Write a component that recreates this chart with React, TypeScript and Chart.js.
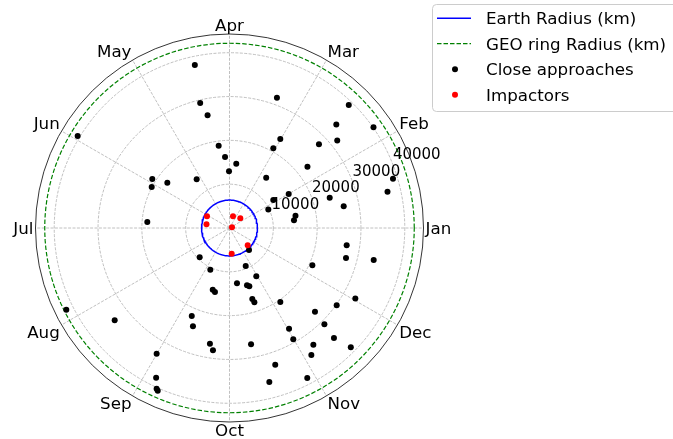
import { useEffect, useRef } from "react";
import { Chart, registerables } from "chart.js";

Chart.register(...registerables);

// Month labels around the dial (Jan at 0°, counter-clockwise)
const MONTHS = ["Jan", "Feb", "Mar", "Apr", "May", "Jun", "Jul", "Aug", "Sep", "Oct", "Nov", "Dec"];
const RADIAL_TICKS = [10000, 20000, 30000, 40000];

const EARTH_RADIUS_KM = 6371;
const GEO_RADIUS_KM = 42164;
const R_MAX = 44272;

// Close approaches: position on the yearly dial (degrees) and distance from Earth's centre (km)
const approachAngleDeg = [
  102.0, 70.0, 103.2, 101.0, 44.1, 60.3, 39.1, 148.8, 43.1, 97.5,
  61.2, 93.6, 84.0, 38.2, 90.5, 147.6, 152.2, 143.9, 124.0, 53.9,
  29.9, 16.8, 32.6, 25.5, 10.6, 6.8, 175.8, 45.9, 35.0, 16.8,
  12.9, 10.8, 224.5, 245.3, 277.7, 287.0, 288.8, 254.8, 257.2, 293.1,
  206.6, 218.8, 246.8, 249.6, 260.4, 262.3, 239.9, 243.9, 245.6, 246.2,
  280.5, 351.6, 345.6, 347.5, 311.6, 335.8, 299.0, 287.8, 288.5, 304.5,
  330.7, 324.2, 315.6, 314.6, 300.6, 299.8, 313.5, 305.7, 315.5, 302.8,
  288.5, 297.4, 284.5,
];
const approachDistanceKm = [
  38040, 31650, 29300, 26200, 33940, 23390, 31680, 40510, 27960, 18940,
  20750, 16230, 14760, 22640, 12940, 20870, 20070, 17560, 13400, 14210,
  15580, 23890, 11860, 9810, 15320, 14820, 18810, 39110, 40110, 38970,
  36990, 26530, 9540, 10480, 12740, 13670, 14050, 14590, 14980, 9430,
  41650, 33620, 21860, 23930, 26780, 28160, 33150, 38060, 40260, 40590,
  26990, 27030, 27450, 33710, 6710, 20730, 12610, 17020, 17880, 20480,
  32930, 30160, 27300, 30840, 26690, 29280, 34630, 32790, 38810, 34480,
  32900, 38560, 36300,
];

// Impactors
const impactorAngleDeg = [73.4, 41.9, 152.5, 170.9, 15.6, 316.5, 274.9];
const impactorDistanceKm = [2790, 3310, 5790, 5320, 590, 5730, 5890];

const FONT = '"DejaVu Sans", "Liberation Sans", sans-serif';
const LABEL_SIZE = 16.7;
const TICK_SIZE = 15;

const rad = (deg: number) => (deg * Math.PI) / 180;
const toXY = (deg: number, r: number) => ({ x: r * Math.cos(rad(deg)), y: r * Math.sin(rad(deg)) });

// closed outline of a constant-radius ring
const ring = (r: number) => {
  const pts: { x: number; y: number }[] = [];
  for (let a = 0; a <= 360; a += 2) pts.push(toXY(a, r));
  return pts;
};

const polarFrame = {
  id: "polarFrame",
  beforeDatasetsDraw(chart: any) {
    const { ctx, scales } = chart;
    const xs = scales.x;
    const ys = scales.y;
    const cx = xs.getPixelForValue(0);
    const cy = ys.getPixelForValue(0);
    const rOuter = xs.getPixelForValue(R_MAX) - cx;
    ctx.save();
    ctx.strokeStyle = "#b0b0b0";
    ctx.lineWidth = 0.8;
    ctx.setLineDash([3, 1.4]);
    for (const r of RADIAL_TICKS) {
      const pr = xs.getPixelForValue(r) - cx;
      ctx.beginPath();
      ctx.arc(cx, cy, pr, 0, Math.PI * 2);
      ctx.stroke();
    }
    MONTHS.forEach((_, i) => {
      const a = rad(i * 30);
      ctx.beginPath();
      ctx.moveTo(cx, cy);
      ctx.lineTo(cx + rOuter * Math.cos(a), cy - rOuter * Math.sin(a));
      ctx.stroke();
    });
    ctx.restore();
  },
  afterDatasetsDraw(chart: any) {
    const { ctx, scales } = chart;
    const xs = scales.x;
    const ys = scales.y;
    const cx = xs.getPixelForValue(0);
    const cy = ys.getPixelForValue(0);
    const rOuter = xs.getPixelForValue(R_MAX) - cx;

    ctx.save();
    // outer rim
    ctx.strokeStyle = "#000";
    ctx.lineWidth = 0.8;
    ctx.setLineDash([]);
    ctx.beginPath();
    ctx.arc(cx, cy, rOuter, 0, Math.PI * 2);
    ctx.stroke();

    // month labels, placed just outside the rim
    ctx.fillStyle = "#000";
    ctx.font = `${LABEL_SIZE}px ${FONT}`;
    ctx.textBaseline = "alphabetic";
    const capH = 0.729 * LABEL_SIZE;
    const pad = 2;
    MONTHS.forEach((m, i) => {
      const a = rad(i * 30);
      const c = Math.cos(a);
      const s = Math.sin(a);
      const ax = cx + (rOuter + pad) * c;
      const ay = cy - (rOuter + pad) * s;
      ctx.textAlign = c > 0.01 ? "left" : c < -0.01 ? "right" : "center";
      let base: number;
      if (s > 0.01) base = ay - 1.5;
      else if (s < -0.01) base = ay - 0.5 + capH;
      else base = ay + capH / 2;
      ctx.fillText(m, ax, base);
    });

    // radial tick labels along 22.5°
    ctx.font = `${TICK_SIZE}px ${FONT}`;
    ctx.textAlign = "left";
    ctx.textBaseline = "alphabetic";
    const la = rad(22.5);
    for (const r of RADIAL_TICKS) {
      const pr = xs.getPixelForValue(r) - cx;
      ctx.fillText(String(r), cx + pr * Math.cos(la) + 1.5, cy - pr * Math.sin(la) - 2);
    }

    // legend
    const bx = 432;
    const by = 4;
    const bw = 260;
    const bh = 107;
    ctx.fillStyle = "rgba(255,255,255,0.8)";
    ctx.strokeStyle = "#cccccc";
    ctx.lineWidth = 1;
    ctx.beginPath();
    ctx.roundRect(bx + 0.5, by + 0.5, bw, bh, 4);
    ctx.fill();
    ctx.stroke();

    ctx.font = `${LABEL_SIZE}px ${FONT}`;
    ctx.textAlign = "left";
    ctx.textBaseline = "alphabetic";
    chart.data.datasets.forEach((ds: any, i: number) => {
      const base = 24 + 25.5 * i;
      const yRow = base - 5.8;
      if (ds.showLine) {
        ctx.strokeStyle = ds.borderColor;
        ctx.lineWidth = ds.borderWidth;
        ctx.setLineDash(ds.borderDash || []);
        ctx.beginPath();
        ctx.moveTo(437, yRow);
        ctx.lineTo(471, yRow);
        ctx.stroke();
        ctx.setLineDash([]);
      } else {
        ctx.fillStyle = ds.backgroundColor;
        ctx.beginPath();
        ctx.arc(455, yRow, ds.pointRadius, 0, Math.PI * 2);
        ctx.fill();
      }
      ctx.fillStyle = "#000";
      ctx.fillText(ds.label, 486, base);
    });
    ctx.restore();
  },
};

export default function App() {
  const canvasRef = useRef<HTMLCanvasElement | null>(null);

  useEffect(() => {
    const canvas = canvasRef.current;
    if (!canvas) return;
    const chart = new Chart(canvas, {
      type: "scatter",
      data: {
        datasets: [
          {
            label: "Earth Radius (km)",
            data: ring(EARTH_RADIUS_KM),
            showLine: true,
            borderColor: "#0000ff",
            borderWidth: 1.5,
            pointRadius: 0,
            order: 4,
          },
          {
            label: "GEO ring Radius (km)",
            data: ring(GEO_RADIUS_KM),
            showLine: true,
            borderColor: "#008000",
            borderWidth: 1.2,
            borderDash: [4.5, 2],
            pointRadius: 0,
            order: 3,
          },
          {
            label: "Close approaches",
            data: approachAngleDeg.map((a, i) => toXY(a, approachDistanceKm[i])),
            backgroundColor: "#000000",
            borderWidth: 0,
            pointRadius: 3,
            order: 2,
          },
          {
            label: "Impactors",
            data: impactorAngleDeg.map((a, i) => toXY(a, impactorDistanceKm[i])),
            backgroundColor: "#ff0000",
            borderWidth: 0,
            pointRadius: 3,
            order: 1,
          },
        ],
      },
      options: {
        animation: false,
        responsive: false,
        maintainAspectRatio: false,
        devicePixelRatio: 1,
        layout: { padding: { left: 35.5, right: 249.5, top: 34, bottom: 17 } },
        scales: {
          x: { type: "linear", min: -R_MAX, max: R_MAX, display: false },
          y: { type: "linear", min: -R_MAX, max: R_MAX, display: false },
        },
        plugins: {
          legend: { display: false },
          tooltip: { enabled: false },
        },
        elements: { line: { tension: 0 } },
      },
      plugins: [polarFrame],
    });
    return () => chart.destroy();
  }, []);

  return (
    <div style={{ position: "fixed", left: 0, top: 0, width: 673, height: 439, background: "#fff" }}>
      <canvas ref={canvasRef} width={673} height={439} style={{ width: 673, height: 439, display: "block" }} />
    </div>
  );
}
